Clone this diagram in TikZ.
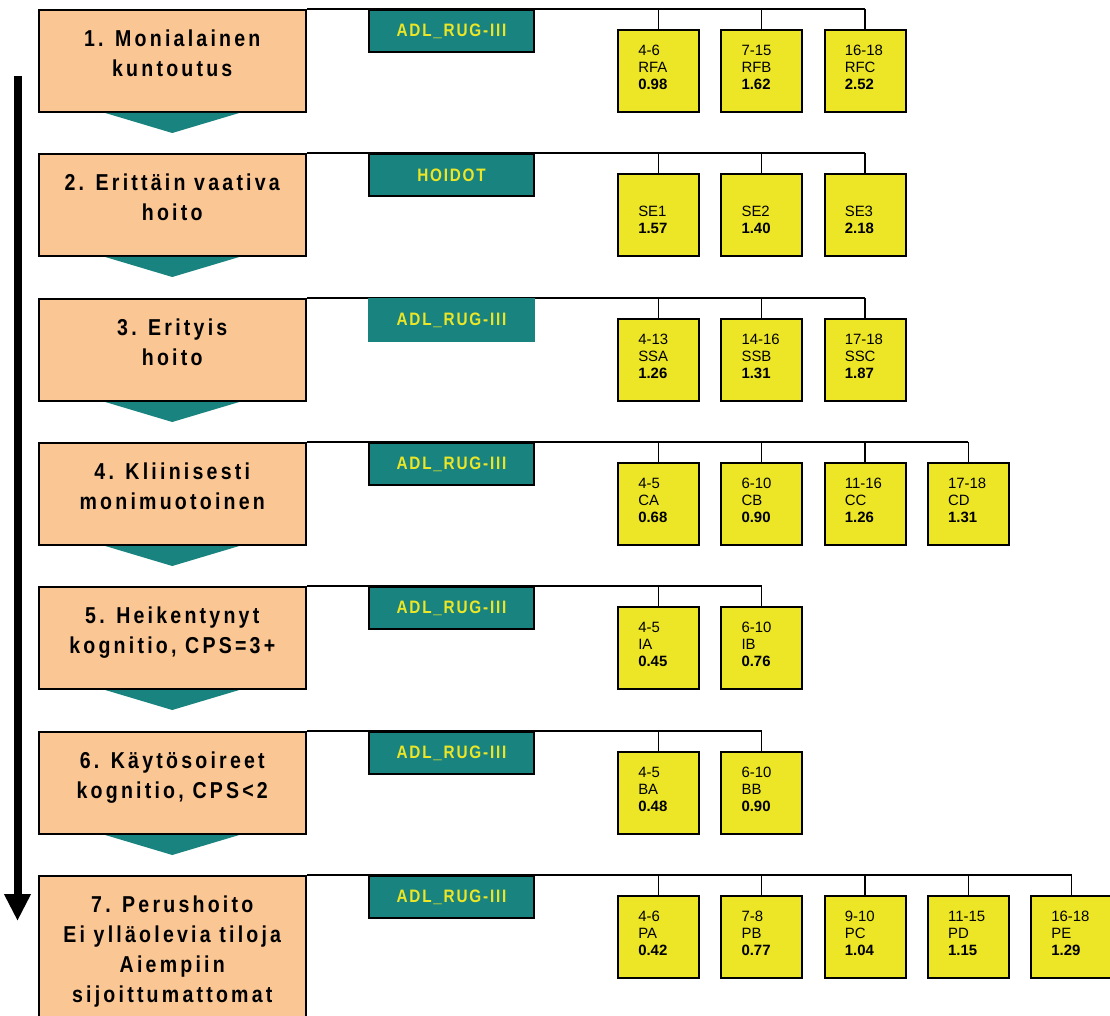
\documentclass[tikz,border=0pt]{standalone}
\usepackage{fontspec}
\setmainfont{Liberation Sans}
\newfontfamily\stepfont[LetterSpace=14,FakeStretch=0.85]{Liberation Sans}
\newfontfamily\tagfont[LetterSpace=10,FakeStretch=0.85]{Liberation Sans}
\usetikzlibrary{arrows.meta,positioning}

\def\px{0.75pt}
\def\gap{15.2pt}
\definecolor{step fill}{RGB}{250,198,148}
\definecolor{tag fill}{RGB}{24,131,127}
\definecolor{group fill}{RGB}{236,230,38}
\colorlet{tag text}{group fill}
\tikzset{
  stepbox/.style={draw=black, line width=1.5pt, fill=step fill, anchor=north west,
    inner sep=0pt, minimum width=267.5*\px, minimum height=102*\px},
  steptext/.style={anchor=north, inner sep=0pt, align=center, yshift=-18*\px,
    font=\stepfont\bfseries\fontsize{17.25pt}{22.5pt}\selectfont},
  tagbox/.style={draw=black, line width=1.5pt, fill=tag fill, anchor=north west,
    inner sep=0pt, minimum width=165*\px, minimum height=42*\px, text=tag text,
    font=\tagfont\bfseries\fontsize{13.5pt}{16pt}\selectfont},
  groupbox/.style={draw=black, line width=1.5pt, fill=group fill, anchor=north west,
    inner sep=0pt, minimum width=81*\px, minimum height=82*\px},
  grouptext/.style={anchor=north west, inner sep=0pt, align=left,
    xshift=21*\px, yshift=-15.5*\px, font=\fontsize{11.2pt}{12.9pt}\selectfont}
  }
\tikzstyle{link} = [draw, line width=1pt, -]
\tikzstyle{pointer} = [fill=tag fill]
\tikzstyle{flow} = [draw, line width=6pt, -{Triangle[width=18.75pt,length=20.25pt]}]

\begin{document}
\begin{tikzpicture}[x=0.75pt, y=-0.75pt]
   \useasboundingbox (0,0) rectangle (1110,1016);

   \coordinate (flowtop) at (17.5,76);
   \coordinate (flowend) at (17.5,921);
   \path[flow] (flowtop) -- (flowend);

   % 1. Monialainen kuntoutus
   \node[stepbox, label={[steptext]north:{\vphantom{Ä}1. Monialainen\\kuntoutus}}] (step1) at (37.5,9) {};
   \node[groupbox, label={[grouptext]north west:{4-6\\RFA\\\textbf{0.98}}}] (rfa) at (617,29) {};
   \node[groupbox, right=\gap of rfa, label={[grouptext]north west:{7-15\\RFB\\\textbf{1.62}}}] (rfb) {};
   \node[groupbox, right=\gap of rfb, label={[grouptext]north west:{16-18\\RFC\\\textbf{2.52}}}] (rfc) {};
   \path[link] (step1.north east) -- (rfc.north |- step1.north east);
   \path[link] (rfa.north) -- (rfa.north |- step1.north);
   \path[link] (rfb.north) -- (rfb.north |- step1.north);
   \path[link] (rfc.north) -- (rfc.north |- step1.north);
   \node[tagbox] (tag1) at (368,9) {ADL\_RUG-III};
   \fill[pointer] (step1.south) ++(-67,0) -- ++(134,0) -- ++(-67,20) -- cycle;

   % 2. Erittain vaativa hoito
   \node[stepbox, label={[steptext]north:{\vphantom{Ä}2. Erittäin vaativa\\hoito}}] (step2) at (37.5,153) {};
   \node[groupbox, label={[grouptext]north west:{\vphantom{0}\\SE1\\\textbf{1.57}}}] (se1) at (617,173) {};
   \node[groupbox, right=\gap of se1, label={[grouptext]north west:{\vphantom{0}\\SE2\\\textbf{1.40}}}] (se2) {};
   \node[groupbox, right=\gap of se2, label={[grouptext]north west:{\vphantom{0}\\SE3\\\textbf{2.18}}}] (se3) {};
   \path[link] (step2.north east) -- (se3.north |- step2.north east);
   \path[link] (se1.north) -- (se1.north |- step2.north);
   \path[link] (se2.north) -- (se2.north |- step2.north);
   \path[link] (se3.north) -- (se3.north |- step2.north);
   \node[tagbox] (tag2) at (368,153) {HOIDOT};
   \fill[pointer] (step2.south) ++(-67,0) -- ++(134,0) -- ++(-67,20) -- cycle;

   % 3. Erityis hoito
   \node[stepbox, label={[steptext]north:{\vphantom{Ä}3. Erityis\\hoito}}] (step3) at (37.5,298) {};
   \node[groupbox, label={[grouptext]north west:{4-13\\SSA\\\textbf{1.26}}}] (ssa) at (617,318) {};
   \node[groupbox, right=\gap of ssa, label={[grouptext]north west:{14-16\\SSB\\\textbf{1.31}}}] (ssb) {};
   \node[groupbox, right=\gap of ssb, label={[grouptext]north west:{17-18\\SSC\\\textbf{1.87}}}] (ssc) {};
   \path[link] (step3.north east) -- (ssc.north |- step3.north east);
   \path[link] (ssa.north) -- (ssa.north |- step3.north);
   \path[link] (ssb.north) -- (ssb.north |- step3.north);
   \path[link] (ssc.north) -- (ssc.north |- step3.north);
   \node[tagbox, draw=tag fill] (tag3) at (368,298) {ADL\_RUG-III};
   \fill[pointer] (step3.south) ++(-67,0) -- ++(134,0) -- ++(-67,20) -- cycle;

   % 4. Kliinisesti monimuotoinen
   \node[stepbox, label={[steptext]north:{\vphantom{Ä}4. Kliinisesti\\monimuotoinen}}] (step4) at (37.5,442) {};
   \node[groupbox, label={[grouptext]north west:{4-5\\CA\\\textbf{0.68}}}] (ca) at (617,462) {};
   \node[groupbox, right=\gap of ca, label={[grouptext]north west:{6-10\\CB\\\textbf{0.90}}}] (cb) {};
   \node[groupbox, right=\gap of cb, label={[grouptext]north west:{11-16\\CC\\\textbf{1.26}}}] (cc) {};
   \node[groupbox, right=\gap of cc, label={[grouptext]north west:{17-18\\CD\\\textbf{1.31}}}] (cd) {};
   \path[link] (step4.north east) -- (cd.north |- step4.north east);
   \path[link] (ca.north) -- (ca.north |- step4.north);
   \path[link] (cb.north) -- (cb.north |- step4.north);
   \path[link] (cc.north) -- (cc.north |- step4.north);
   \path[link] (cd.north) -- (cd.north |- step4.north);
   \node[tagbox] (tag4) at (368,442) {ADL\_RUG-III};
   \fill[pointer] (step4.south) ++(-67,0) -- ++(134,0) -- ++(-67,20) -- cycle;

   % 5. Heikentynyt kognitio
   \node[stepbox, label={[steptext]north:{\vphantom{Ä}5. Heikentynyt\\kognitio, CPS=3+}}] (step5) at (37.5,586) {};
   \node[groupbox, label={[grouptext]north west:{4-5\\IA\\\textbf{0.45}}}] (ia) at (617,606) {};
   \node[groupbox, right=\gap of ia, label={[grouptext]north west:{6-10\\IB\\\textbf{0.76}}}] (ib) {};
   \path[link] (step5.north east) -- (ib.north |- step5.north east);
   \path[link] (ia.north) -- (ia.north |- step5.north);
   \path[link] (ib.north) -- (ib.north |- step5.north);
   \node[tagbox] (tag5) at (368,586) {ADL\_RUG-III};
   \fill[pointer] (step5.south) ++(-67,0) -- ++(134,0) -- ++(-67,20) -- cycle;

   % 6. Kaytosoireet
   \node[stepbox, label={[steptext]north:{\vphantom{Ä}6. Käytösoireet\\kognitio, CPS<2}}] (step6) at (37.5,731) {};
   \node[groupbox, label={[grouptext]north west:{4-5\\BA\\\textbf{0.48}}}] (ba) at (617,751) {};
   \node[groupbox, right=\gap of ba, label={[grouptext]north west:{6-10\\BB\\\textbf{0.90}}}] (bb) {};
   \path[link] (step6.north east) -- (bb.north |- step6.north east);
   \path[link] (ba.north) -- (ba.north |- step6.north);
   \path[link] (bb.north) -- (bb.north |- step6.north);
   \node[tagbox] (tag6) at (368,731) {ADL\_RUG-III};
   \fill[pointer] (step6.south) ++(-67,0) -- ++(134,0) -- ++(-67,20) -- cycle;

   % 7. Perushoito
   \node[stepbox, minimum height=180*\px, label={[steptext]north:{\vphantom{Ä}7. Perushoito\\Ei ylläolevia tiloja\\Aiempiin\\sijoittumattomat}}] (step7) at (37.5,875) {};
   \node[groupbox, label={[grouptext]north west:{4-6\\PA\\\textbf{0.42}}}] (pa) at (617,895) {};
   \node[groupbox, right=\gap of pa, label={[grouptext]north west:{7-8\\PB\\\textbf{0.77}}}] (pb) {};
   \node[groupbox, right=\gap of pb, label={[grouptext]north west:{9-10\\PC\\\textbf{1.04}}}] (pc) {};
   \node[groupbox, right=\gap of pc, label={[grouptext]north west:{11-15\\PD\\\textbf{1.15}}}] (pd) {};
   \node[groupbox, right=\gap of pd, label={[grouptext]north west:{16-18\\PE\\\textbf{1.29}}}] (pe) {};
   \path[link] (step7.north east) -- (pe.north |- step7.north east);
   \path[link] (pa.north) -- (pa.north |- step7.north);
   \path[link] (pb.north) -- (pb.north |- step7.north);
   \path[link] (pc.north) -- (pc.north |- step7.north);
   \path[link] (pd.north) -- (pd.north |- step7.north);
   \path[link] (pe.north) -- (pe.north |- step7.north);
   \node[tagbox] (tag7) at (368,875) {ADL\_RUG-III};
\end{tikzpicture}
\end{document}
